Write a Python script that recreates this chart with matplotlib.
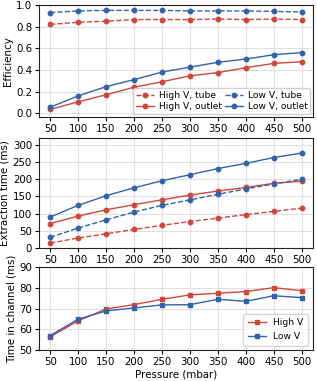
import numpy as np
import matplotlib
matplotlib.use("Agg")
import matplotlib.pyplot as plt

pressure = [50, 100, 150, 200, 250, 300, 350, 400, 450, 500]

# efficiency
eff_high_tube = [0.82, 0.84, 0.85, 0.865, 0.865, 0.865, 0.87, 0.865, 0.87, 0.865]
eff_low_tube = [0.93, 0.945, 0.95, 0.95, 0.95, 0.945, 0.945, 0.945, 0.94, 0.935]
eff_high_outlet = [0.035, 0.105, 0.17, 0.24, 0.29, 0.345, 0.375, 0.42, 0.46, 0.475]
eff_low_outlet = [0.055, 0.16, 0.245, 0.31, 0.38, 0.425, 0.47, 0.50, 0.54, 0.56]

# extraction time (ms)
ext_high_tube = [14.5, 29, 41.5, 54, 66, 77, 87, 97, 106.5, 116]
ext_low_tube = [31, 58, 82, 104.5, 124, 140, 156, 172, 186, 200]
ext_high_outlet = [71, 93, 111, 126, 140, 154, 165.5, 176, 188, 194.5]
ext_low_outlet = [90, 124, 152, 175, 195.5, 213, 231, 246, 263, 276]

# time in channel (ms)
chan_high = [56.4, 64.1, 69.8, 71.9, 74.5, 76.6, 77.4, 78.2, 80.1, 78.6]
chan_low = [57.0, 64.9, 68.9, 70.3, 71.8, 71.9, 74.5, 73.5, 76.2, 75.3]

RED = "#d0473a"
BLUE = "#3362a8"
FS = 7.4

plt.rcParams["font.family"] = "DejaVu Sans"
plt.rcParams["font.size"] = FS

fig = plt.figure(figsize=(3.17, 3.81), dpi=100)
ax1 = fig.add_axes([0.123, 0.693, 0.864, 0.294])
ax2 = fig.add_axes([0.123, 0.349, 0.864, 0.289])
ax3 = fig.add_axes([0.123, 0.081, 0.864, 0.218])

kw = dict(linewidth=1.0, markersize=3.2)

ax1.plot(pressure, eff_high_tube, "--o", color=RED, label="High V, tube", **kw)
ax1.plot(pressure, eff_high_outlet, "-o", color=RED, label="High V, outlet", **kw)
ax1.plot(pressure, eff_low_tube, "--o", color=BLUE, label="Low V, tube", **kw)
ax1.plot(pressure, eff_low_outlet, "-o", color=BLUE, label="Low V, outlet", **kw)
ax1.set_ylim(-0.035, 1.0)
ax1.set_yticks([0.0, 0.2, 0.4, 0.6, 0.8, 1.0])
ax1.set_ylabel("Efficiency")
ax1.legend(loc="lower right", ncol=2, fontsize=6.6, columnspacing=0.3,
           handlelength=2.0, handletextpad=0.5, borderpad=0.3,
           labelspacing=0.3, framealpha=0.9, borderaxespad=0.3)

ax2.plot(pressure, ext_high_tube, "--o", color=RED, **kw)
ax2.plot(pressure, ext_high_outlet, "-o", color=RED, **kw)
ax2.plot(pressure, ext_low_tube, "--o", color=BLUE, **kw)
ax2.plot(pressure, ext_low_outlet, "-o", color=BLUE, **kw)
ax2.set_ylim(0, 320)
ax2.set_yticks([0, 50, 100, 150, 200, 250, 300])
ax2.set_ylabel("Extraction time (ms)")

ax3.plot(pressure, chan_high, "-s", color=RED, label="High V", **kw)
ax3.plot(pressure, chan_low, "-s", color=BLUE, label="Low V", **kw)
ax3.set_ylim(50, 90)
ax3.set_yticks([50, 60, 70, 80, 90])
ax3.set_ylabel("Time in channel (ms)")
ax3.set_xlabel("Pressure (mbar)", labelpad=2)
ax3.legend(loc="lower right", fontsize=6.6, handlelength=2.0,
           borderpad=0.5, labelspacing=0.5)

for ax in (ax1, ax2, ax3):
    ax.set_xlim(30, 520)
    ax.set_xticks(pressure)
    ax.grid(True, color="#e0e0e0", linewidth=0.8)
    ax.set_axisbelow(True)
    ax.tick_params(labelsize=FS, length=3, pad=2)
    ax.yaxis.labelpad = 2
    for spine in ax.spines.values():
        spine.set_edgecolor("#222222")
        spine.set_linewidth(0.8)

fig.savefig("out.png", dpi=100)
